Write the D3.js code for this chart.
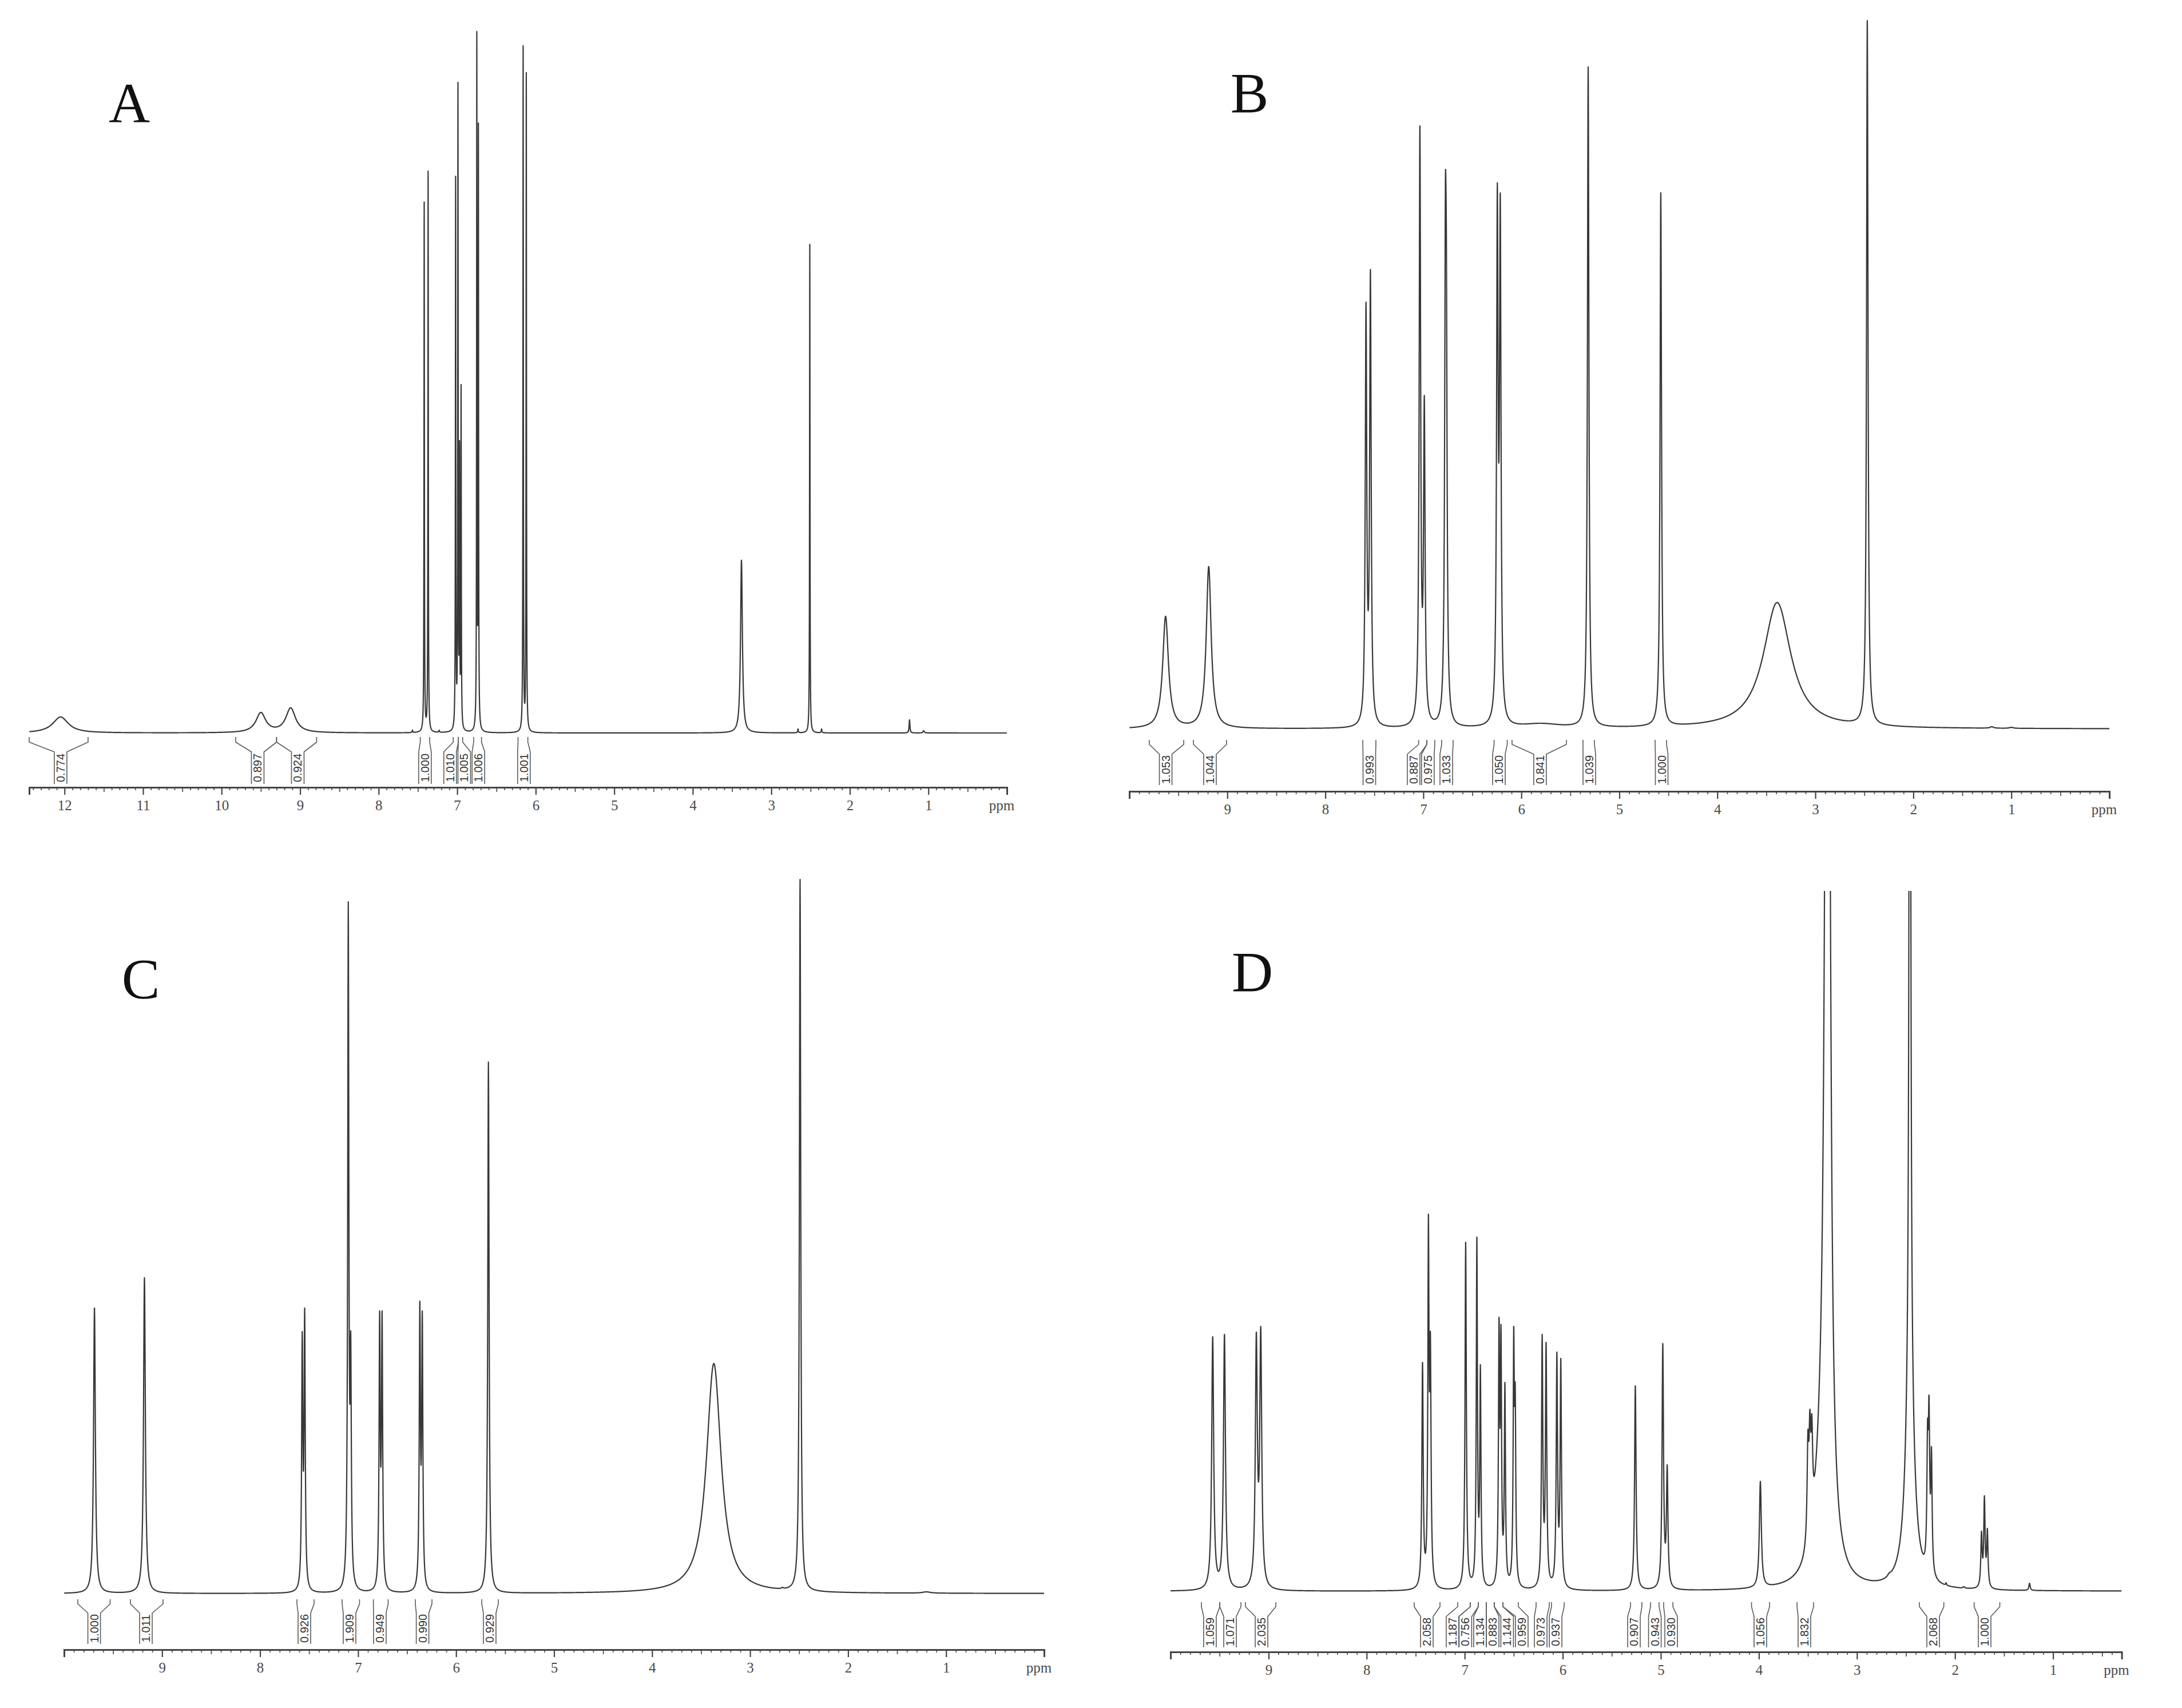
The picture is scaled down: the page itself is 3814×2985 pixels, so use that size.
<!DOCTYPE html>
<html><head><meta charset="utf-8">
<script src="https://cdn.jsdelivr.net/npm/d3@7"></script>
<style>body{margin:0;background:#fff}</style>
</head><body>
<svg id="chart" width="3814" height="2985"></svg>
<script>
// ---------------- DATA ----------------
// Each panel: peak positions (ppm), observed peak-top heights (relative intensity), half widths (ppm)
// Panel A
const aPpm    = [12.05, 9.50, 9.12, 7.57, 7.42, 7.37, 7.23, 7.02, 6.99, 6.97, 6.95, 6.75, 6.73, 6.16, 6.12, 3.38, 2.66, 2.51, 2.36, 1.24, 1.06];
const aHeight = [28, 36, 44, 5, 928, 982, 5, 973, 1137, 511, 609, 1226, 1066, 1201, 1154, 302, 7, 854, 7, 23, 4];
const aWidth  = [0.12, 0.075, 0.075, 0.005, 0.003, 0.003, 0.005, 0.003, 0.003, 0.003, 0.003, 0.003, 0.003, 0.003, 0.003, 0.014, 0.005, 0.003, 0.005, 0.006, 0.01];
const aIntFrom  = [12.45, 9.82, 9.30, 7.47, 7.05, 6.985, 6.79, 6.225];
const aIntTo    = [11.70, 9.30, 8.79, 7.35, 6.985, 6.93, 6.69, 6.10];
const aIntAt    = [12.05, 9.54, 9.03, 7.41, 7.09, 6.91, 6.73, 6.15];
const aIntLabel = ["0.774", "0.897", "0.924", "1.000", "1.010", "1.005", "1.006", "1.001"];
const aTicks    = [12, 11, 10, 9, 8, 7, 6, 5, 4, 3, 2, 1];

// Panel B
const bPpm    = [9.63, 9.19, 7.585, 7.54, 7.035, 6.99, 6.775, 6.765, 6.245, 6.215, 5.80, 5.318, 4.577, 3.39, 2.47, 1.20, 1.00];
const bHeight = [197, 284, 746, 803, 1054, 583, 950, 864, 954, 937, 10, 1157, 937, 221, 1238, 4, 3];
const bWidth  = [0.035, 0.03, 0.009, 0.009, 0.009, 0.009, 0.009, 0.009, 0.009, 0.009, 0.25, 0.009, 0.009, 0.17, 0.009, 0.02, 0.02];
const bIntFrom  = [9.796, 9.346, 7.618, 7.048, 6.964, 6.813, 6.278, 6.095, 5.371, 4.635];
const bIntTo    = [9.445, 9.008, 7.484, 6.964, 6.883, 6.696, 6.144, 5.540, 5.254, 4.518];
const bIntAt    = [9.629, 9.177, 7.551, 7.099, 6.954, 6.766, 6.229, 5.809, 5.306, 4.568];
const bIntLabel = ["1.053", "1.044", "0.993", "0.887", "0.975", "1.033", "1.050", "0.841", "1.039", "1.000"];
const bTicks    = [9, 8, 7, 6, 5, 4, 3, 2, 1];

// Panel C
const cPpm    = [9.69, 9.18, 7.57, 7.545, 7.10, 7.075, 6.78, 6.755, 6.37, 6.345, 5.67, 3.37, 2.67, 2.49, 1.2];
const cHeight = [499, 552, 458, 499, 1209, 458, 494, 494, 511, 494, 929, 402, 8, 1248, 3];
const cWidth  = [0.011, 0.011, 0.007, 0.007, 0.007, 0.007, 0.007, 0.007, 0.007, 0.007, 0.008, 0.09, 0.01, 0.008, 0.05];
const cIntFrom  = [9.86, 9.323, 7.624, 7.163, 6.844, 6.416, 5.738];
const cIntTo    = [9.53, 8.99, 7.449, 6.985, 6.693, 6.246, 5.569];
const cIntAt    = [9.693, 9.165, 7.548, 7.087, 6.778, 6.342, 5.657];
const cIntLabel = ["1.000", "1.011", "0.926", "1.909", "0.949", "0.990", "0.929"];
const cTicks    = [9, 8, 7, 6, 5, 4, 3, 2, 1];

// Panel D
const dPpm    = [9.57, 9.45, 9.125, 9.08, 7.43, 7.37, 7.35, 6.99, 6.876, 6.84, 6.65, 6.63, 6.59, 6.50, 6.485, 6.21, 6.17, 6.06, 6.02, 5.26, 4.98, 4.935, 3.985, 3.50, 3.48, 3.46, 3.30, 2.67, 2.46, 2.28, 2.265, 2.24, 2.09, 1.91, 1.73, 1.70, 1.67, 1.24];
const dHeight = [445, 449, 453, 463, 400, 659, 453, 610, 619, 396, 479, 466, 365, 463, 363, 449, 435, 418, 407, 359, 433, 221, 192, 281, 318, 310, 3000, 15, 2600, 300, 343, 253, 15, 8, 105, 167, 110, 14];
const dWidth  = [0.012, 0.012, 0.012, 0.012, 0.008, 0.007, 0.008, 0.008, 0.007, 0.007, 0.007, 0.007, 0.007, 0.007, 0.007, 0.008, 0.008, 0.008, 0.008, 0.009, 0.009, 0.009, 0.012, 0.01, 0.01, 0.01, 0.024, 0.02, 0.008, 0.008, 0.008, 0.008, 0.005, 0.01, 0.008, 0.008, 0.008, 0.008];
// broad underlying components in D (water and DMSO bases), added as they are
const dBasePpm    = [3.36, 2.46];
const dBaseHeight = [150, 350];
const dBaseWidth  = [0.08, 0.05];
const dIntFrom  = [9.685, 9.498, 9.236, 7.515, 7.071, 6.943, 6.861, 6.779, 6.698, 6.610, 6.272, 6.115, 5.309, 5.105, 4.971, 4.075, 3.611, 2.363, 1.805];
const dIntTo    = [9.498, 9.282, 8.926, 7.252, 6.943, 6.861, 6.779, 6.698, 6.610, 6.453, 6.138, 5.986, 5.193, 5.018, 4.877, 3.891, 3.442, 2.114, 1.543];
const dIntAt    = [9.598, 9.393, 9.072, 7.386, 7.124, 6.993, 6.844, 6.715, 6.567, 6.418, 6.225, 6.073, 5.274, 5.061, 4.895, 3.985, 3.536, 2.223, 1.698];
const dIntLabel = ["1.059", "1.071", "2.035", "2.058", "1.187", "0.756", "1.134", "0.883", "1.144", "0.959", "0.973", "0.937", "0.907", "0.943", "0.930", "1.056", "1.832", "2.068", "1.000"];
const dTicks    = [9, 8, 7, 6, 5, 4, 3, 2, 1];

// ---------------- LAYOUT ----------------
const panels = [
  {name:"A", ppm:aPpm, h:aHeight, w:aWidth, bp:[], bh:[], bw:[], iFrom:aIntFrom, iTo:aIntTo, iAt:aIntAt, iLab:aIntLabel, ticks:aTicks,
   dom:[12.45, 0], range:[51, 1760], base:1281, axisY:1376, top:0, iy:[1288,1297,1314,1370], letter:[226,214]},
  {name:"B", ppm:bPpm, h:bHeight, w:bWidth, bp:[], bh:[], bw:[], iFrom:bIntFrom, iTo:bIntTo, iAt:bIntAt, iLab:bIntLabel, ticks:bTicks,
   dom:[10, 0], range:[1974, 3687], base:1274, axisY:1383, top:0, iy:[1293,1301,1318,1372], letter:[2184,196]},
  {name:"C", ppm:cPpm, h:cHeight, w:cWidth, bp:[], bh:[], bw:[], iFrom:cIntFrom, iTo:cIntTo, iAt:cIntAt, iLab:cIntLabel, ticks:cTicks,
   dom:[10, 0], range:[112, 1825], base:2785, axisY:2883, top:1480, iy:[2795,2803,2819,2873], letter:[246,1744]},
  {name:"D", ppm:dPpm, h:dHeight, w:dWidth, bp:dBasePpm, bh:dBaseHeight, bw:dBaseWidth, iFrom:dIntFrom, iTo:dIntTo, iAt:dIntAt, iLab:dIntLabel, ticks:dTicks,
   dom:[10, 0.3], range:[2046, 3708.6], base:2781, axisY:2887, top:1557, iy:[2800,2808,2825,2879], letter:[2189,1732]}
];

const lor = (v, c, a, w) => { const t = (v - c) / w; return a / (1 + t * t); };

// amplitudes so that the summed curve reaches the observed peak tops
function amplitudes(p) {
  const n = p.ppm.length;
  const A = p.h.slice();
  for (let it = 0; it < 40; it++) {
    for (let i = 0; i < n; i++) {
      let s = 0;
      for (let j = 0; j < n; j++) if (j !== i) s += lor(p.ppm[i], p.ppm[j], A[j], p.w[j]);
      for (let k = 0; k < p.bp.length; k++) s += lor(p.ppm[i], p.bp[k], p.bh[k], p.bw[k]);
      A[i] = Math.max(p.h[i] - s, 0.25 * p.h[i]);
    }
  }
  return A;
}

const svg = d3.select("#chart");
svg.append("rect").attr("width",3814).attr("height",2985).attr("fill","#fff");
const defs = svg.append("defs");
const ink = "#383838";

panels.forEach(p => {
  const x = d3.scaleLinear().domain(p.dom).range(p.range);
  const y = d3.scaleLinear().domain([0, 1000]).range([p.base, p.base - 1000]);
  const g = svg.append("g");

  const cid = "clip" + p.name;
  defs.append("clipPath").attr("id", cid).append("rect")
    .attr("x", p.range[0]).attr("y", p.top)
    .attr("width", p.range[1] - p.range[0]).attr("height", p.base + 40 - p.top);

  const A = amplitudes(p);
  const lo = Math.min(...p.dom), hi = Math.max(...p.dom);
  const pxw = p.range[1] - p.range[0];
  const step = (hi - lo) / (pxw * 4);
  let grid = [];
  for (let v = lo; v <= hi; v += step) grid.push(v);
  p.ppm.forEach((c, i) => {
    [-1, -0.5, -0.25, 0, 0.25, 0.5, 1].forEach(k => grid.push(c + k * p.w[i]));
  });
  grid = grid.filter(v => v >= lo && v <= hi).sort((a, b) => a - b);
  const pts = grid.map(v => {
    let s = 0;
    for (let i = 0; i < p.ppm.length; i++) s += lor(v, p.ppm[i], A[i], p.w[i]);
    for (let k = 0; k < p.bp.length; k++) s += lor(v, p.bp[k], p.bh[k], p.bw[k]);
    return [v, s];
  });
  const line = d3.line().x(d => x(d[0])).y(d => y(d[1]));
  g.append("path").datum(pts).attr("d", line)
    .attr("clip-path", `url(#${cid})`)
    .attr("fill", "none").attr("stroke", ink).attr("stroke-width", 2.2)
    .attr("stroke-linejoin", "round");

  // minor ticks (0.1 ppm) and half ticks (0.5 ppm)
  const minorVals = d3.range(Math.ceil(lo * 10), Math.floor(hi * 10) + 1).map(v => v / 10)
    .filter(v => Math.abs(v - Math.round(v)) > 1e-6);
  const minorAx = d3.axisBottom(x).tickValues(minorVals.filter(v => Math.abs(v*2 - Math.round(v*2)) > 1e-6))
    .tickSize(5).tickFormat("");
  const halfAx = d3.axisBottom(x).tickValues(minorVals.filter(v => Math.abs(v*2 - Math.round(v*2)) < 1e-6))
    .tickSize(8).tickFormat("");
  [minorAx, halfAx].forEach(a => {
    const gm = g.append("g").attr("transform", `translate(0,${p.axisY})`).call(a);
    gm.select(".domain").remove();
    gm.selectAll("line").attr("stroke", "#555").attr("stroke-width", 1.8);
  });

  const ax = d3.axisBottom(x).tickValues(p.ticks).tickFormat(d3.format("d"))
    .tickSize(13).tickSizeOuter(13).tickPadding(9);
  const ga = g.append("g").attr("transform", `translate(0,${p.axisY})`).call(ax);
  ga.select(".domain").attr("stroke", "#444").attr("stroke-width", 3);
  ga.selectAll(".tick line").attr("stroke", "#444").attr("stroke-width", 2.2);
  ga.selectAll(".tick text").attr("font-family", "'Liberation Serif', serif")
    .attr("font-size", 25).attr("fill", "#4a4a4a");
  g.append("text").attr("x", p.range[1] - 9).attr("y", p.axisY + 22).attr("dy", "0.71em")
    .attr("text-anchor", "middle").attr("font-family", "'Liberation Serif', serif")
    .attr("font-size", 25).attr("fill", "#4a4a4a").text("ppm");

  // integrals
  const [y0, y1, y2, y3] = p.iy;
  const bw = 22;
  p.iLab.forEach((lab, i) => {
    const xl = x(p.iFrom[i]), xr = x(p.iTo[i]), xc = x(p.iAt[i]);
    const path = `M${xl},${y0}L${xl},${y1}L${xc - bw/2},${y2}L${xc - bw/2},${y3}` +
                 `M${xr},${y0}L${xr},${y1}L${xc + bw/2},${y2}L${xc + bw/2},${y3}`;
    g.append("path").attr("d", path).attr("fill", "none")
      .attr("stroke", "#5a5a5a").attr("stroke-width", 1.6);
    g.append("text")
      .attr("transform", `translate(${xc},${(y2 + y3) / 2}) rotate(-90)`)
      .attr("text-anchor", "middle").attr("dominant-baseline", "central")
      .attr("font-family", "'Liberation Sans', Arial, sans-serif").attr("font-size", 20)
      .attr("fill", "#333").text(lab);
  });

  svg.append("text").attr("x", p.letter[0]).attr("y", p.letter[1])
    .attr("text-anchor", "middle").attr("font-family", "'Liberation Serif', 'Times New Roman', serif")
    .attr("font-size", 100).attr("fill", "#111").text(p.name);
});
</script>
</body></html>
